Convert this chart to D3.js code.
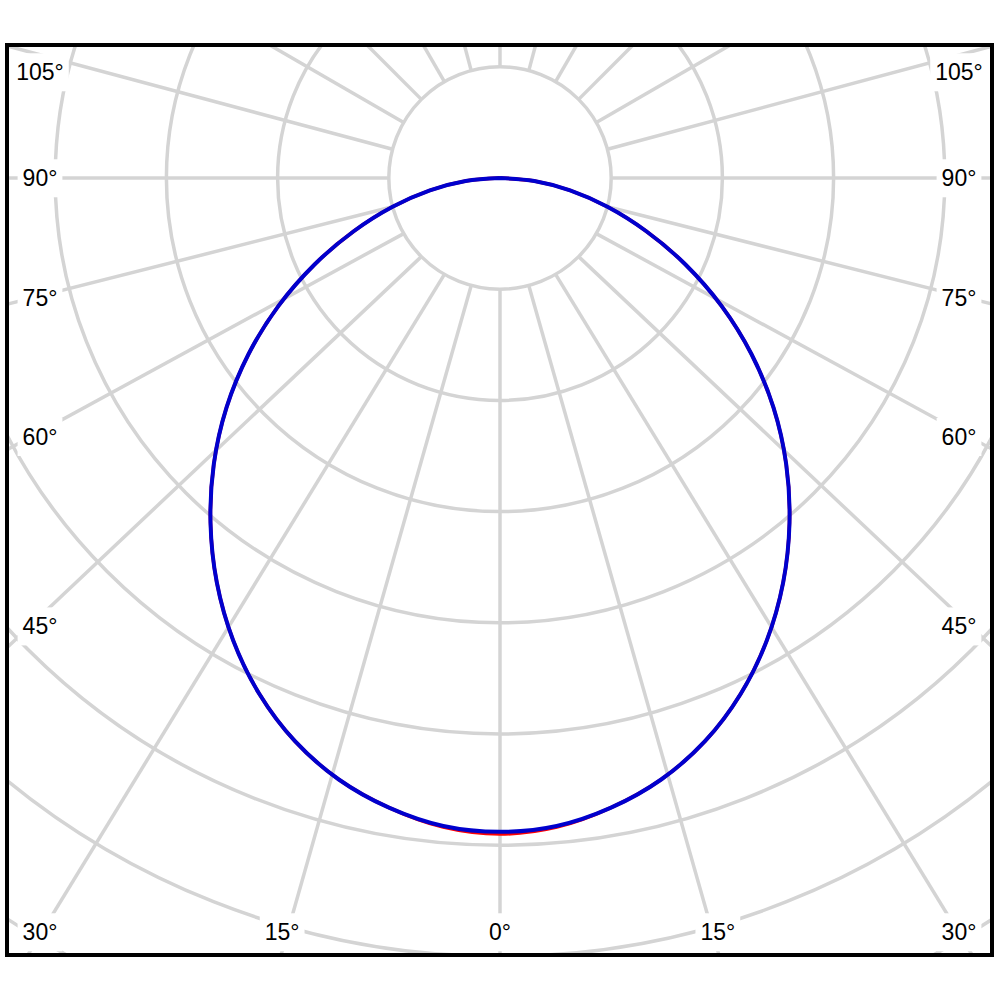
<!DOCTYPE html>
<html>
<head>
<meta charset="utf-8">
<script src="https://cdn.jsdelivr.net/npm/d3@7"></script>
<style>
  html, body { margin: 0; padding: 0; background: #fff; }
  svg { display: block; }
</style>
</head>
<body>
<svg id="chart" width="1000" height="1000"></svg>
<script>
// ---------------- DATA ----------------
// gamma angles (degrees from nadir) of the measured intensity values
const gammaAngles = [0, 5, 10, 15, 20, 25, 30, 35, 40, 45, 50, 55, 60, 65, 70, 75, 80, 85, 90];
// C0-C180 plane (red)
const intensityC0 = [590, 586, 575, 560, 539, 512, 480, 444, 405, 364, 321, 276, 230, 184, 140, 100, 64, 31, 0];
// C90-C270 plane (blue)
const intensityC90 = [588, 585, 575, 560, 539, 512, 480, 444, 405, 364, 321, 276, 230, 184, 140, 100, 64, 31, 0];
// concentric grid rings (intensity units)
const ringValues = [100, 200, 300, 400, 500, 600, 700, 800];
// radial grid lines (degrees)
const spokeAngles = d3.range(0, 360, 15);
// angle labels shown along the frame
const labelAngles = [0, 15, 30, 45, 60, 75, 90, 105];

// ---------------- LAYOUT ----------------
const svg = d3.select("#chart");
const frame = { x: 7, y: 45, w: 985, h: 910 };
const cx = 500, cy = 178;
const rScale = d3.scaleLinear().domain([0, 100]).range([0, 111.2]);
const gridColor = "#d4d4d4";
const kLower = 1.06; // horizontal widening of lower spokes as in the reference

svg.append("defs").append("clipPath").attr("id", "clipFrame")
  .append("rect").attr("x", frame.x).attr("y", frame.y).attr("width", frame.w).attr("height", frame.h);

const g = svg.append("g").attr("clip-path", "url(#clipFrame)");

function spokeDir(deg) {
  const a = deg * Math.PI / 180;
  const k = Math.cos(a) > 1e-6 ? kLower : 1;
  let dx = k * Math.sin(a), dy = Math.cos(a);
  const n = Math.hypot(dx, dy);
  return [dx / n, dy / n];
}

// rings
g.append("g").selectAll("circle").data(ringValues).join("circle")
  .attr("cx", cx).attr("cy", cy).attr("r", d => rScale(d))
  .attr("fill", "none").attr("stroke", gridColor).attr("stroke-width", 3.5);

// spokes
const r0 = rScale(ringValues[0]);
g.append("g").selectAll("line").data(spokeAngles).join("line")
  .attr("x1", d => cx + r0 * Math.sin(d * Math.PI / 180))
  .attr("y1", d => cy + r0 * Math.cos(d * Math.PI / 180))
  .attr("x2", d => { const [dx, dy] = spokeDir(d); return cx + r0 * Math.sin(d * Math.PI / 180) + 1500 * dx; })
  .attr("y2", d => { const [dx, dy] = spokeDir(d); return cy + r0 * Math.cos(d * Math.PI / 180) + 1500 * dy; })
  .attr("stroke", gridColor).attr("stroke-width", 3.5);

// labels
const labelData = [];
labelAngles.forEach(a => {
  if (a === 0) labelData.push({ a, s: 0 });
  else { labelData.push({ a, s: -1 }); labelData.push({ a, s: 1 }); }
});
const outer = { x0: 25, x1: 975, y0: 47, y1: 945 };
const inner = { x0: 40, x1: 959, y0: 72, y1: 932 };
function labelPos(d) {
  const [ux, uy] = spokeDir(d.a);
  const dx = d.s * ux, dy = uy;
  const ts = [];
  if (dx > 1e-9) ts.push((outer.x1 - cx) / dx);
  if (dx < -1e-9) ts.push((outer.x0 - cx) / dx);
  if (dy > 1e-9) ts.push((outer.y1 - cy) / dy);
  if (dy < -1e-9) ts.push((outer.y0 - cy) / dy);
  const t = Math.min(...ts);
  let x = cx + t * dx, y = cy + t * dy;
  x = Math.max(inner.x0, Math.min(inner.x1, x));
  y = Math.max(inner.y0, Math.min(inner.y1, y));
  return [x, y];
}
const lg = svg.append("g");
const labels = lg.selectAll("g").data(labelData).join("g")
  .attr("transform", d => { const [x, y] = labelPos(d); return `translate(${x},${y})`; });
const texts = labels.append("text")
  .attr("text-anchor", "middle").attr("dy", "0.36em")
  .attr("font-family", "'Liberation Sans', Arial, sans-serif").attr("font-size", 23)
  .attr("fill", "#000").text(d => d.a + "°");
texts.each(function () {
  const b = this.getBBox();
  d3.select(this.parentNode).insert("rect", "text")
    .attr("x", b.x - 5).attr("y", b.y - 6).attr("width", b.width + 10).attr("height", b.height + 12)
    .attr("fill", "#fff");
});

// intensity curves
function curvePoints(values) {
  const pts = [];
  for (let i = gammaAngles.length - 1; i >= 1; i--) pts.push({ ang: -gammaAngles[i], v: values[i] });
  for (let i = 0; i < gammaAngles.length; i++) pts.push({ ang: gammaAngles[i], v: values[i] });
  return pts;
}
const radial = d3.lineRadial()
  .angle(d => Math.PI - d.ang * Math.PI / 180)
  .radius(d => rScale(d.v))
  .curve(d3.curveCatmullRom.alpha(0.5));

const cg = svg.append("g").attr("transform", `translate(${cx},${cy})`);
cg.append("path").attr("d", radial(curvePoints(intensityC0)))
  .attr("fill", "none").attr("stroke", "#ff0000").attr("stroke-width", 3.5);
cg.append("path").attr("d", radial(curvePoints(intensityC90)))
  .attr("fill", "none").attr("stroke", "#0000cd").attr("stroke-width", 4);

// frame
svg.append("rect").attr("x", frame.x).attr("y", frame.y).attr("width", frame.w).attr("height", frame.h)
  .attr("fill", "none").attr("stroke", "#000").attr("stroke-width", 4);
</script>
</body>
</html>
